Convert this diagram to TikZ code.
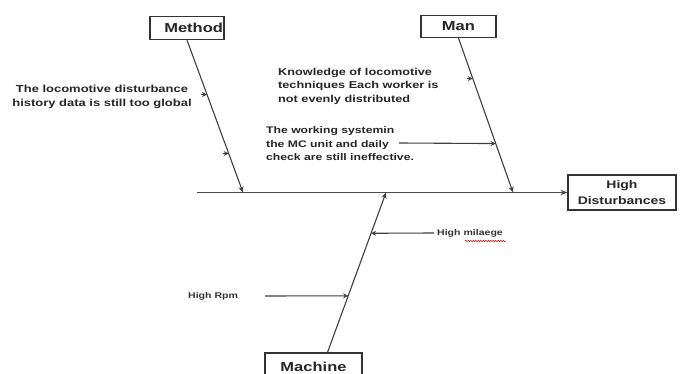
\documentclass[tikz,border=0pt]{standalone}
\usepackage{fontspec}
\setmainfont{Liberation Sans}[FakeStretch=1.27]
\usetikzlibrary{arrows.meta,positioning,calc,decorations.pathmorphing}

\tikzset{
  box/.style={draw=black!80, line width=1.2pt, fill=white, inner sep=0pt,
    font=\bfseries\fontsize{13}{16.5}\selectfont, text=black!85},
  spine/.style={black!70, line width=1.5pt, -{Stealth[length=7pt,width=5.5pt]}},
  bone/.style={black!75, line width=1.1pt, -{Stealth[length=6pt,width=5pt]}},
  cause/.style={black!75, line width=1.1pt, -{Stealth[length=5pt,width=5pt]}},
  note/.style={font=\bfseries\fontsize{10}{13.5}\selectfont, align=left, text=black!85, inner sep=0pt},
  small/.style={font=\bfseries\fontsize{8.3}{10}\selectfont, text=black!80, inner sep=0pt}
}

\begin{document}
\begin{tikzpicture}[x=1pt,y=-1pt]
  \clip (0,0) rectangle (682,374);
  \fill[white] (0,0) rectangle (682,374);

  % Cajas
  \node[box, minimum width=74, minimum height=23, text width=72, align=right] (method) at (187,28) {Method};
  \node[box, minimum width=75, minimum height=22] (man) at (458.5,26.5) {Man};
  \node[box, minimum width=97, minimum height=28] (machine) at (313.5,367) {Machine};
  \node[box, minimum width=108, minimum height=35, align=center,
    font=\bfseries\fontsize{11}{16.5}\selectfont] (effect) at (622,192.5) {High\\Disturbances};

  % Espina principal
  \coordinate (tail) at (197,192.5);
  \draw[spine] (tail) -- (effect.west);

  % Ramas
  \coordinate (mE) at (243,192.5);
  \coordinate (nE) at (513,192.5);
  \coordinate (cE) at (386,192.5);
  \draw[bone] (method.south) -- (mE);
  \draw[bone] (man.south) -- (nE);
  \draw[bone] ([xshift=14pt]machine.north) -- (cE);

  % Puntos sobre las ramas
  \path (method.south) -- (mE) coordinate[pos=0.357] (m1) coordinate[pos=0.744] (m2);
  \path (man.south) -- (nE) coordinate[pos=0.262] (n1) coordinate[pos=0.683] (n2);
  \path ([xshift=14pt]machine.north) -- (cE) coordinate[pos=0.354] (c1) coordinate[pos=0.745] (c2);

  % Causas
  \node[font=\bfseries\fontsize{10.2}{13.5}\selectfont, align=center, text=black!85, inner sep=0pt] (hist) at (102,97)
    {The locomotive disturbance\\history data is still too global};
  \node[note, anchor=west] (know) at (278,86)
    {Knowledge of locomotive\\techniques Each worker is\\not evenly distributed};
  \node[note, anchor=west, font=\bfseries\fontsize{9.6}{13.5}\selectfont] (work) at (266,144)
    {The working systemin\\the MC unit and daily\\check are still ineffective.};
  \node[small, anchor=west] (rpm) at (188,296) {High Rpm};
  \node[small, anchor=west] (milaege) at (437,233) {High milaege};
  \coordinate (w) at (399,143);

  \draw[cause] ([xshift=-5.5pt]m1) -- (m1);
  \draw[cause] ([xshift=-5.5pt]m2) -- (m2);
  \draw[cause] ([xshift=-5.5pt]n1) -- (n1);
  \draw[cause] (w) -- (n2);
  \draw[cause] (265,296) -- (c1);
  \draw[cause] ([xshift=-3pt]milaege.west) -- (c2);

  % Subrayado ondulado
  \draw[red!80!black, line width=0.5pt, decorate, decoration={snake, amplitude=0.7pt, segment length=2.5pt}]
    (465,241) -- (506,241);
\end{tikzpicture}
\end{document}
